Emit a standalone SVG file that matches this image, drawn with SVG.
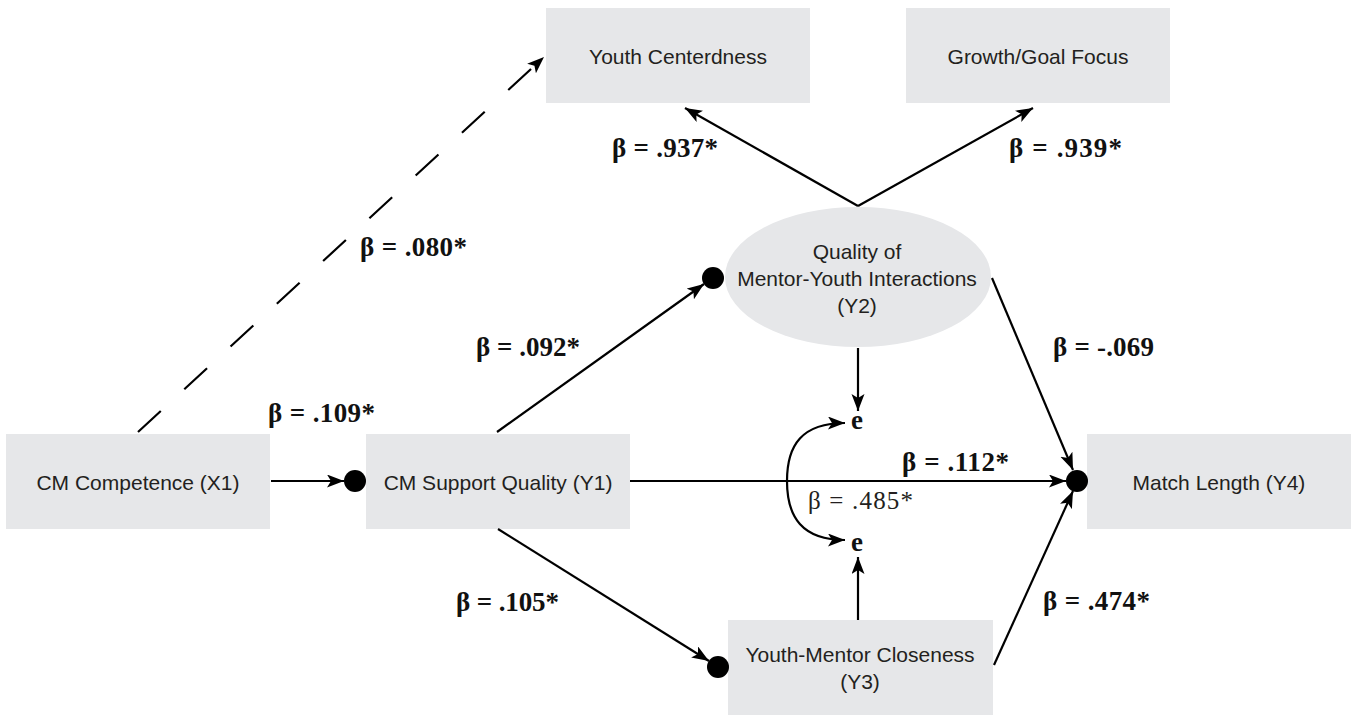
<svg xmlns="http://www.w3.org/2000/svg" width="1351" height="715" viewBox="0 0 1351 715">
<style>
.box{fill:#e6e7e9;stroke:none}
.lbl{font-family:"Liberation Sans",Arial,Helvetica,sans-serif;font-size:21px;fill:#231f20;text-anchor:middle}
.b{font-family:"Liberation Serif","Times New Roman",serif;font-size:27px;font-weight:bold;fill:#111}
.r{font-family:"Liberation Serif","Times New Roman",serif;font-size:25px;fill:#231f20}
.ln{stroke:#000;stroke-width:2.2;fill:none}
.dot{fill:#000}
</style>
<defs>
<marker id="ah" markerUnits="userSpaceOnUse" markerWidth="20" markerHeight="14" refX="17" refY="6.5" orient="auto-start-reverse">
<path d="M0,0 L17,6.5 L0,13 L4,6.5 z" fill="#000"/>
</marker>
</defs>
<rect width="1351" height="715" fill="#fff"/>

<g id="node-youth-centerdness">
<rect class="box" x="546" y="8" width="264" height="95"/>
<text class="lbl" x="678" y="64">Youth Centerdness</text>
</g>
<g id="node-growth-goal">
<rect class="box" x="906" y="8" width="264" height="95"/>
<text class="lbl" x="1038" y="64">Growth/Goal Focus</text>
</g>
<g id="node-x1">
<rect class="box" x="6" y="434" width="264" height="95"/>
<text class="lbl" x="138" y="490">CM Competence (X1)</text>
</g>
<g id="node-y1">
<rect class="box" x="366" y="434" width="264" height="95"/>
<text class="lbl" x="498" y="490">CM Support Quality (Y1)</text>
<circle class="dot" cx="355" cy="481" r="11"/>
</g>
<g id="node-y2">
<ellipse class="box" cx="858" cy="277" rx="133" ry="70"/>
<text class="lbl" x="857" y="259">Quality of</text>
<text class="lbl" x="857" y="286">Mentor-Youth Interactions</text>
<text class="lbl" x="857" y="313">(Y2)</text>
<circle class="dot" cx="713" cy="278" r="11"/>
</g>
<g id="node-y3">
<rect class="box" x="728" y="620" width="265" height="95"/>
<text class="lbl" x="860" y="662">Youth-Mentor Closeness</text>
<text class="lbl" x="860" y="689">(Y3)</text>
<circle class="dot" cx="718" cy="667" r="11"/>
</g>
<g id="node-y4">
<rect class="box" x="1087" y="434" width="264" height="95"/>
<text class="lbl" x="1219" y="490">Match Length (Y4)</text>
<circle class="dot" cx="1077" cy="481" r="11"/>
</g>
<g id="node-e1">
<text class="b" x="857" y="429" text-anchor="middle">e</text>
</g>
<g id="node-e2">
<text class="b" x="857" y="551" text-anchor="middle">e</text>
</g>

<g id="connectors">
<line class="ln" x1="138" y1="432" x2="544" y2="57" stroke-dasharray="31 32" marker-end="url(#ah)"/>
<line class="ln" x1="271" y1="481" x2="344" y2="481" marker-end="url(#ah)"/>
<line class="ln" x1="497" y1="432" x2="704" y2="284" marker-end="url(#ah)"/>
<line class="ln" x1="498" y1="529" x2="709" y2="661" marker-end="url(#ah)"/>
<line class="ln" x1="630" y1="481" x2="1066" y2="481" marker-end="url(#ah)"/>
<line class="ln" x1="992" y1="278" x2="1073" y2="470" marker-end="url(#ah)"/>
<line class="ln" x1="994" y1="665" x2="1073" y2="491" marker-end="url(#ah)"/>
<line class="ln" x1="858" y1="348" x2="858" y2="411" marker-end="url(#ah)"/>
<line class="ln" x1="858" y1="620" x2="858" y2="557" marker-end="url(#ah)"/>
<line class="ln" x1="858" y1="206" x2="685" y2="108" marker-end="url(#ah)"/>
<line class="ln" x1="858" y1="206" x2="1033" y2="108" marker-end="url(#ah)"/>
<path class="ln" d="M845,423 C802,423 787,445 787,481 C787,517 802,540 845,540" marker-start="url(#ah)" marker-end="url(#ah)"/>
</g>

<g id="labels">
<text class="b" x="612" y="157" textLength="106" lengthAdjust="spacing">β = .937*</text>
<text class="b" x="1009" y="157" textLength="113" lengthAdjust="spacing">β = .939*</text>
<text class="b" x="360" y="256" textLength="107" lengthAdjust="spacing">β = .080*</text>
<text class="b" x="268" y="422" textLength="107" lengthAdjust="spacing">β = .109*</text>
<text class="b" x="476" y="356" textLength="104" lengthAdjust="spacing">β = .092*</text>
<text class="b" x="456" y="611" textLength="103" lengthAdjust="spacing">β = .105*</text>
<text class="b" x="1053" y="356" textLength="101" lengthAdjust="spacing">β = -.069</text>
<text class="b" x="902" y="471" textLength="107" lengthAdjust="spacing">β = .112*</text>
<text class="r" x="808" y="509" textLength="105" lengthAdjust="spacing">β = .485*</text>
<text class="b" x="1043" y="610" textLength="107" lengthAdjust="spacing">β = .474*</text>
</g>
</svg>
